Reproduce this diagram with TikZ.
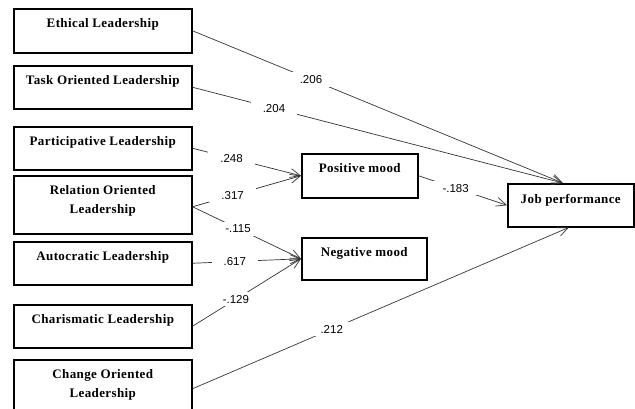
\documentclass[tikz,border=0pt]{standalone}
\usepackage{fontspec}
\setmainfont{Liberation Serif}
\setsansfont{Liberation Sans}
\newfontfamily\boxfont[LetterSpace=3]{Liberation Serif}
\usetikzlibrary{arrows.meta}

\tikzset{
	factor/.style={draw, line width=1.5pt, anchor=north west, minimum width=178pt, minimum height=44pt, inner sep=0pt},
	boxtext/.style={anchor=north, yshift=-7pt, align=center, font=\boxfont\bfseries\fontsize{13}{19}\selectfont},
	coef/.style={fill=white, inner xsep=12pt, inner ysep=3pt, font=\sffamily\fontsize{11.5}{13}\selectfont},
	path/.style={draw=black!80, line width=0.7pt, -{Straight Barb[length=10pt, width=9pt]}}
}

\begin{document}
\begin{tikzpicture}[x=1pt, y=-1pt]
	\useasboundingbox[fill=white] (0,0) rectangle (635,408);
	% predictors
	\node[factor, label={[boxtext]north:Ethical Leadership}] (ethical) at (13,8) {};
	\node[factor, minimum height=43pt, label={[boxtext]north:Task Oriented Leadership}] (task) at (13,65) {};
	\node[factor, minimum height=43pt, label={[boxtext]north:Participative Leadership}] (partic) at (13,126) {};
	\node[factor, minimum height=58pt, label={[boxtext]north:Relation Oriented\\Leadership}] (relation) at (13,175) {};
	\node[factor, minimum height=43pt, label={[boxtext]north:Autocratic Leadership}] (autocr) at (13,241) {};
	\node[factor, minimum height=43pt, label={[boxtext]north:Charismatic Leadership}] (charis) at (13,304) {};
	\node[factor, minimum height=58pt, label={[boxtext]north:Change Oriented\\Leadership}] (change) at (13,359) {};
	% mediators and outcome
	\node[factor, minimum width=116pt, label={[boxtext]north:Positive mood}] (posmood) at (301,153) {};
	\node[factor, minimum width=125pt, minimum height=42pt, label={[boxtext]north:Negative mood}] (negmood) at (301,237) {};
	\node[factor, minimum width=126pt, minimum height=43pt, label={[boxtext, yshift=-1pt]north:Job performance}] (jobperf) at (507,183) {};
	% paths
	\draw[path] (ethical.east) -- node[coef, pos=.32]{.206} ([xshift=-8pt]jobperf.north);
	\draw[path] (task.east) -- node[coef, pos=.22]{.204} ([xshift=-8pt]jobperf.north);
	\draw[path] (partic.east) -- node[coef, pos=.36]{.248} (posmood.west);
	\draw[path] ([yshift=-2pt]relation.east) -- node[coef, pos=.37]{.317} (posmood.west);
	\draw[path] ([yshift=-2pt]relation.east) -- node[coef, pos=.42]{-.115} (negmood.west);
	\draw[path] (autocr.east) -- node[coef, pos=.39]{.617} (negmood.west);
	\draw[path] (charis.east) -- node[coef, pos=.40]{-.129} (negmood.west);
	\draw[path] (change.east) -- node[coef, pos=.37]{.212} ([xshift=-2pt]jobperf.south);
	\draw[path] (posmood.east) -- node[coef, pos=.42]{-.183} (jobperf.west);
\end{tikzpicture}
\end{document}
